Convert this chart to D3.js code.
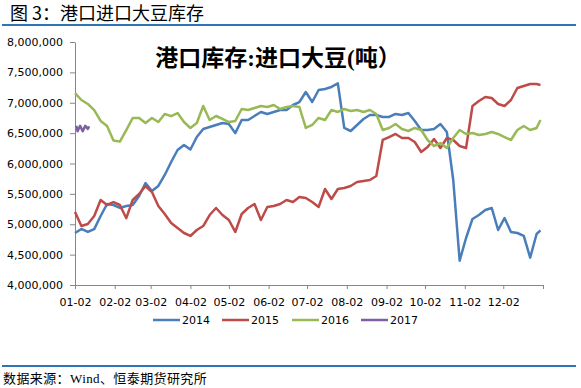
<!DOCTYPE html>
<html>
<head>
<meta charset="utf-8">
<script src="https://cdn.jsdelivr.net/npm/d3@7"></script>
<style>
  body { margin: 0; background: #fff; }
  svg text { font-family: "DejaVu Sans", sans-serif; }
</style>
</head>
<body>
<svg width="581" height="388"></svg>
<script>
// sample dates (month-day), every 5 days
const days = ["01-02","01-07","01-12","01-17","01-22","01-27","02-01","02-06","02-11","02-16","02-21","02-26",
  "03-03","03-08","03-13","03-18","03-23","03-28","04-02","04-07","04-12","04-17","04-22","04-27",
  "05-02","05-07","05-12","05-17","05-22","05-27","06-01","06-06","06-11","06-16","06-21","06-26",
  "07-01","07-06","07-11","07-16","07-21","07-26","07-31","08-05","08-10","08-15","08-20","08-25",
  "08-30","09-04","09-09","09-14","09-19","09-24","09-29","10-04","10-09","10-14","10-19","10-24",
  "10-29","11-03","11-08","11-13","11-18","11-23","11-28","12-03","12-08","12-13","12-18","12-23",
  "12-28","12-31"]

const s2014 = [4856000,4922000,4873000,4920000,5136000,5333000,5317000,5268000,5300000,5317000,5465000,5679000,
  5547000,5630000,5811000,6025000,6222000,6305000,6230000,6436000,6568000,6601000,6634000,6667000,
  6650000,6500000,6716000,6716000,6782000,6848000,6815000,6848000,6880000,6880000,6963000,7012000,
  7177000,7012000,7210000,7226000,7260000,7320000,6585000,6535000,6634000,6733000,6798000,6798000,
  6766000,6766000,6815000,6798000,6831000,6700000,6551000,6551000,6568000,6650000,6519000,5728000,
  4400000,4774000,5087000,5152000,5235000,5268000,4905000,5103000,4873000,4856000,4807000,4450000,
  4840000,4900000]

const s2015 = [5202000,4971000,5004000,5136000,5399000,5317000,5366000,5317000,5100000,5399000,5498000,5630000,
  5531000,5300000,5169000,5021000,4938000,4856000,4807000,4905000,4971000,5152000,5268000,5152000,
  5070000,4873000,5169000,5268000,5333000,5070000,5284000,5300000,5333000,5399000,5366000,5448000,
  5432000,5366000,5284000,5580000,5415000,5580000,5597000,5630000,5695000,5712000,5728000,5794000,
  6387000,6436000,6486000,6420000,6420000,6354000,6189000,6272000,6403000,6255000,6420000,6387000,
  6288000,6255000,6947000,7029000,7095000,7078000,6980000,6947000,7045000,7243000,7276000,7309000,
  7309000,7292000]

const s2016 = [7160000,7045000,6980000,6880000,6700000,6617000,6380000,6360000,6551000,6749000,6750000,6667000,
  6750000,6683000,6815000,6780000,6830000,6683000,6585000,6667000,6947000,6716000,6782000,6733000,
  6683000,6700000,6897000,6880000,6914000,6947000,6930000,6963000,6897000,6930000,6947000,6930000,
  6585000,6634000,6750000,6716000,6880000,6848000,6897000,6864000,6880000,6848000,6880000,6815000,
  6551000,6585000,6650000,6568000,6535000,6585000,6551000,6387000,6288000,6337000,6255000,6420000,
  6551000,6486000,6502000,6469000,6486000,6519000,6486000,6436000,6387000,6551000,6617000,6551000,
  6585000,6716000]

// 2017 only has the first days of January
const days2017 = ["01-03","01-04","01-06","01-08","01-10","01-12","01-13"]
const s2017 = [6620000,6530000,6620000,6530000,6620000,6570000,6610000]

const monthTicks = ["01-02","02-02","03-02","04-02","05-02","06-02","07-02","08-02","09-02","10-02","11-02","12-02"]
const yTicks = [4000000,4500000,5000000,5500000,6000000,6500000,7000000,7500000,8000000]

const colors = ["#4a7ebb", "#be4b48", "#98b954", "#7d60a0"]
const names = ["2014", "2015", "2016", "2017"]

const parse = s => new Date(2015, +s.slice(0, 2) - 1, +s.slice(3))
const endDate = new Date(2016, 0, 2)

var svg = d3.select('svg')

var x = d3.scaleTime().domain([parse("01-02"), endDate]).range([75, 543])
var y = d3.scaleLinear().domain([4000000, 8000000]).range([285, 42])

// header + footer
svg.append('text').attr('x', 10).attr('y', 20)
  .style('font-family', '"Noto Sans CJK SC", sans-serif').style('font-size', '18px')
  .text('图 3：港口进口大豆库存')
svg.append('rect').attr('x', 2).attr('y', 24).attr('width', 574).attr('height', 2).attr('fill', '#2e75b6')
svg.append('rect').attr('x', 2).attr('y', 365).attr('width', 574).attr('height', 2).attr('fill', '#2e75b6')
svg.append('text').attr('x', 3).attr('y', 383)
  .style('font-family', '"Liberation Serif", "Noto Sans CJK SC", serif').style('font-size', '13px')
  .style('letter-spacing', '0.4px')
  .text('数据来源：Wind、恒泰期货研究所')

// axes
var yAxis = svg.append('g').attr('transform', 'translate(75,0)')
  .call(d3.axisLeft(y).tickValues(yTicks).tickFormat(d3.format(',')).tickSize(5).tickPadding(7).tickSizeOuter(0))
var xAxis = svg.append('g').attr('transform', 'translate(0,285)')
  .call(d3.axisBottom(x).tickValues(monthTicks.map(parse).concat([endDate]))
    .tickFormat((d, i) => i < monthTicks.length ? monthTicks[i] : '').tickSize(4).tickPadding(9).tickSizeOuter(0))

svg.selectAll('.domain, .tick line').attr('stroke', '#868686')
svg.selectAll('.tick text').attr('fill', '#000').style('font-size', '11px').style('font-family', '"DejaVu Sans", sans-serif')

// lines
var line = d3.line().x(d => x(parse(d[0]))).y(d => y(d[1]))
var series = [d3.zip(days, s2014), d3.zip(days, s2015), d3.zip(days, s2016), d3.zip(days2017, s2017)]

svg.selectAll('path.series').data(series).enter().append('path')
  .attr('class', 'series')
  .attr('d', line)
  .attr('fill', 'none')
  .attr('stroke', (d, i) => colors[i])
  .attr('stroke-width', 2.5)
  .attr('stroke-linejoin', 'round')

// chart title
svg.append('text').attr('x', 278).attr('y', 66).attr('text-anchor', 'middle')
  .style('font-family', '"Liberation Serif", "Noto Sans CJK SC", serif').style('font-size', '23px').style('font-weight', 'bold')
  .text('港口库存:进口大豆(吨）')

// legend
var legendX = [153, 222, 292, 361]
var legend = svg.selectAll('g.legend').data(names).enter().append('g')
  .attr('class', 'legend')
  .attr('transform', (d, i) => `translate(${legendX[i]},320)`)
legend.append('line').attr('x1', 0).attr('x2', 27).attr('y1', 0).attr('y2', 0)
  .attr('stroke', (d, i) => colors[i]).attr('stroke-width', 2.5)
legend.append('text').attr('x', 29).attr('y', 4)
  .style('font-size', '11px').attr('fill', '#000')
  .text(d => d)
</script>
</body>
</html>
